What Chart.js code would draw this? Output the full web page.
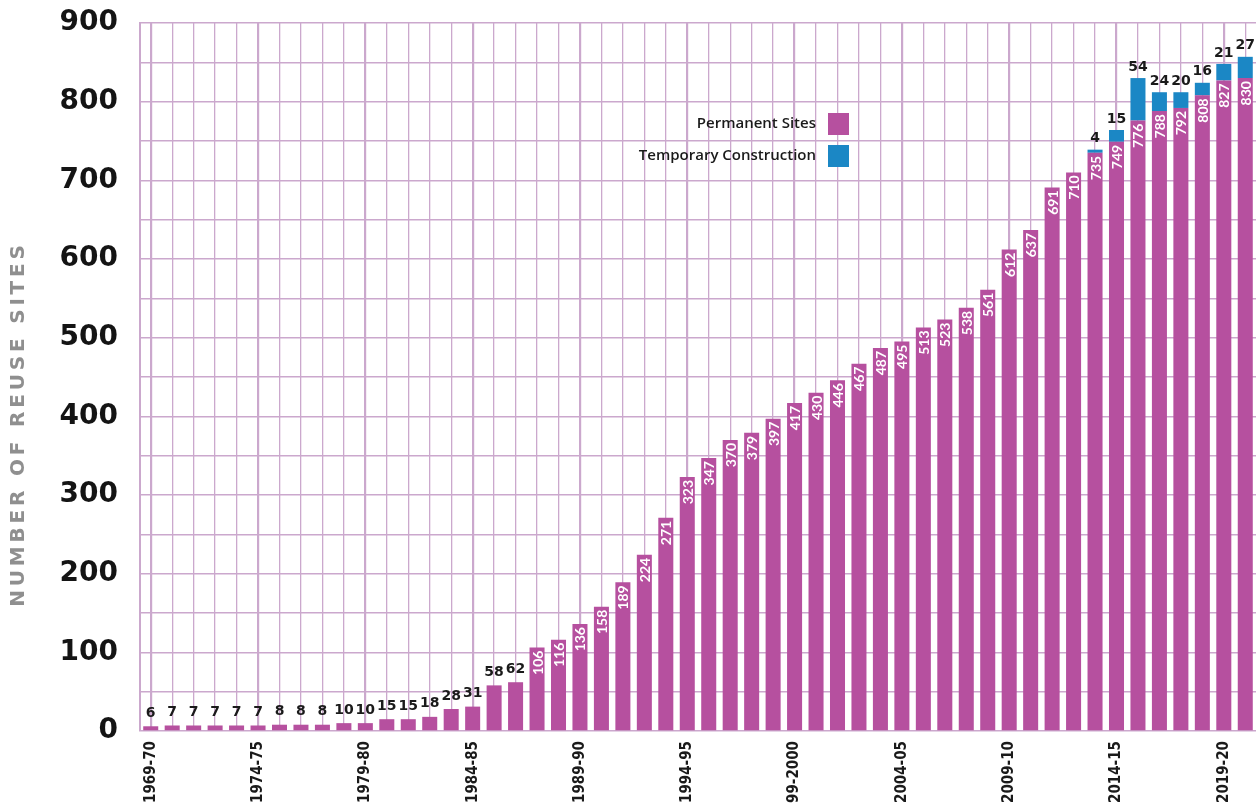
<!DOCTYPE html>
<html>
<head>
<meta charset="utf-8">
<script src="https://cdn.jsdelivr.net/npm/chart.js@4"></script>
<style>
  html, body { margin: 0; padding: 0; background: #ffffff; }
  #wrap { width: 1256px; height: 803px; position: relative; }
</style>
</head>
<body>
<div id="wrap"><canvas id="c"></canvas></div>
<script>
const categories = [
  "1969-70","1970-71","1971-72","1972-73","1973-74","1974-75","1975-76","1976-77","1977-78","1978-79",
  "1979-80","1980-81","1981-82","1982-83","1983-84","1984-85","1985-86","1986-87","1987-88","1988-89",
  "1989-90","1990-91","1991-92","1992-93","1993-94","1994-95","1995-96","1996-97","1997-98","1998-99",
  "1999-2000","2000-01","2001-02","2002-03","2003-04","2004-05","2005-06","2006-07","2007-08","2008-09",
  "2009-10","2010-11","2011-12","2012-13","2013-14","2014-15","2015-16","2016-17","2017-18","2018-19",
  "2019-20","2020-21"
];
const permanentSites = [
  6,7,7,7,7,7,8,8,8,10,
  10,15,15,18,28,31,58,62,106,116,
  136,158,189,224,271,323,347,370,379,397,
  417,430,446,467,487,495,513,523,538,561,
  612,637,691,710,735,749,776,788,792,808,
  827,830
];
const temporaryConstruction = [
  0,0,0,0,0,0,0,0,0,0,
  0,0,0,0,0,0,0,0,0,0,
  0,0,0,0,0,0,0,0,0,0,
  0,0,0,0,0,0,0,0,0,0,
  0,0,0,0,4,15,54,24,20,16,
  21,27
];
const seriesNames = ["Permanent Sites", "Temporary Construction"];
const yTitle = "NUMBER OF REUSE SITES";

const MAGENTA = "#b6509f";
const BLUE = "#1b87c5";
const GRID = "#cba8cd";

const valueLabels = {
  id: "valueLabels",
  afterDatasetsDraw(chart) {
    const ctx = chart.ctx;
    const m0 = chart.getDatasetMeta(0);
    const m1 = chart.getDatasetMeta(1);
    ctx.save();
    m0.data.forEach((el, i) => {
      const v = permanentSites[i];
      if (v >= 100) {
        ctx.save();
        ctx.translate(el.x, el.y + 3);
        ctx.rotate(-Math.PI / 2);
        ctx.fillStyle = "#ffffff";
        ctx.font = "bold 14px Lato, sans-serif";
        ctx.textAlign = "right";
        ctx.textBaseline = "middle";
        ctx.fillText(String(v), 0, 1);
        ctx.restore();
      } else {
        ctx.fillStyle = "#1a1a1a";
        ctx.font = "bold 14px 'DejaVu Sans', sans-serif";
        ctx.textAlign = "center";
        ctx.textBaseline = "bottom";
        ctx.fillText(String(v), el.x, el.y - 6);
      }
    });
    m1.data.forEach((el, i) => {
      const v = temporaryConstruction[i];
      if (v > 0) {
        ctx.fillStyle = "#1a1a1a";
        ctx.font = "bold 14px 'DejaVu Sans', sans-serif";
        ctx.textAlign = "center";
        ctx.textBaseline = "bottom";
        ctx.fillText(String(v), el.x, el.y - 4);
      }
    });
    ctx.restore();
  }
};

const customLegend = {
  id: "customLegend",
  afterDraw(chart) {
    const ctx = chart.ctx;
    ctx.save();
    ctx.font = "600 15px 'Open Sans', sans-serif";
    ctx.textAlign = "right";
    ctx.textBaseline = "middle";
    const cols = [MAGENTA, BLUE];
    const ys = [124, 156];
    seriesNames.forEach((n, k) => {
      ctx.fillStyle = "#1a1a1a";
      ctx.fillText(n, 816, ys[k]);
      ctx.fillStyle = cols[k];
      ctx.fillRect(828, ys[k] - 11, 21, 22);
    });
    ctx.restore();
  }
};

const yTitlePlugin = {
  id: "yTitlePlugin",
  afterDraw(chart) {
    const ctx = chart.ctx;
    ctx.save();
    ctx.translate(19, 424);
    ctx.rotate(-Math.PI / 2);
    ctx.font = "bold 20px 'DejaVu Sans', sans-serif";
    try { ctx.letterSpacing = "3.8px"; } catch (e) {}
    ctx.fillStyle = "#8f8f8f";
    ctx.textAlign = "center";
    ctx.textBaseline = "middle";
    ctx.fillText(yTitle, 0, 0);
    ctx.restore();
  }
};

new Chart(document.getElementById("c"), {
  type: "bar",
  data: {
    labels: categories,
    datasets: [
      { label: seriesNames[0], data: permanentSites, backgroundColor: MAGENTA,
        barPercentage: 0.7, categoryPercentage: 1.0 },
      { label: seriesNames[1], data: temporaryConstruction, backgroundColor: BLUE,
        barPercentage: 0.7, categoryPercentage: 1.0 }
    ]
  },
  options: {
    responsive: true,
    maintainAspectRatio: false,
    animation: false,
    layout: { padding: { top: 23, left: 0, right: 0, bottom: 0 } },
    plugins: {
      legend: { display: false },
      tooltip: { enabled: false },
      title: { display: false }
    },
    scales: {
      x: {
        stacked: true,
        afterFit(scale) {
          scale.height = 72;
          scale.paddingLeft = 0;
          scale.paddingRight = 0;
        },
        grid: {
          offset: false,
          color: GRID,
          lineWidth: (c) => (c.index % 5 === 0 ? 2.2 : 1.3),
          drawTicks: false
        },
        border: { display: false },
        ticks: {
          autoSkip: false,
          maxRotation: 90,
          minRotation: 90,
          padding: 10,
          color: "#1a1a1a",
          font: { family: "'DejaVu Sans Condensed', sans-serif", size: 15, weight: "bold" },
          callback: function (val, idx) { return idx % 5 === 0 ? categories[idx] : ""; }
        }
      },
      y: {
        stacked: true,
        min: 0,
        max: 900,
        afterFit(scale) {
          scale.width = 140;
          scale.paddingTop = 0;
          scale.paddingBottom = 0;
        },
        grid: { color: GRID, lineWidth: 1.5, drawTicks: false },
        border: { display: true, color: GRID, width: 2 },
        ticks: {
          stepSize: 50,
          padding: 22,
          color: "#141414",
          font: { family: "'DejaVu Sans', sans-serif", size: 28, weight: "bold" },
          callback: (v) => (v % 100 === 0 ? String(v) : "")
        }
      }
    }
  },
  plugins: [valueLabels, customLegend, yTitlePlugin]
});
</script>
</body>
</html>
